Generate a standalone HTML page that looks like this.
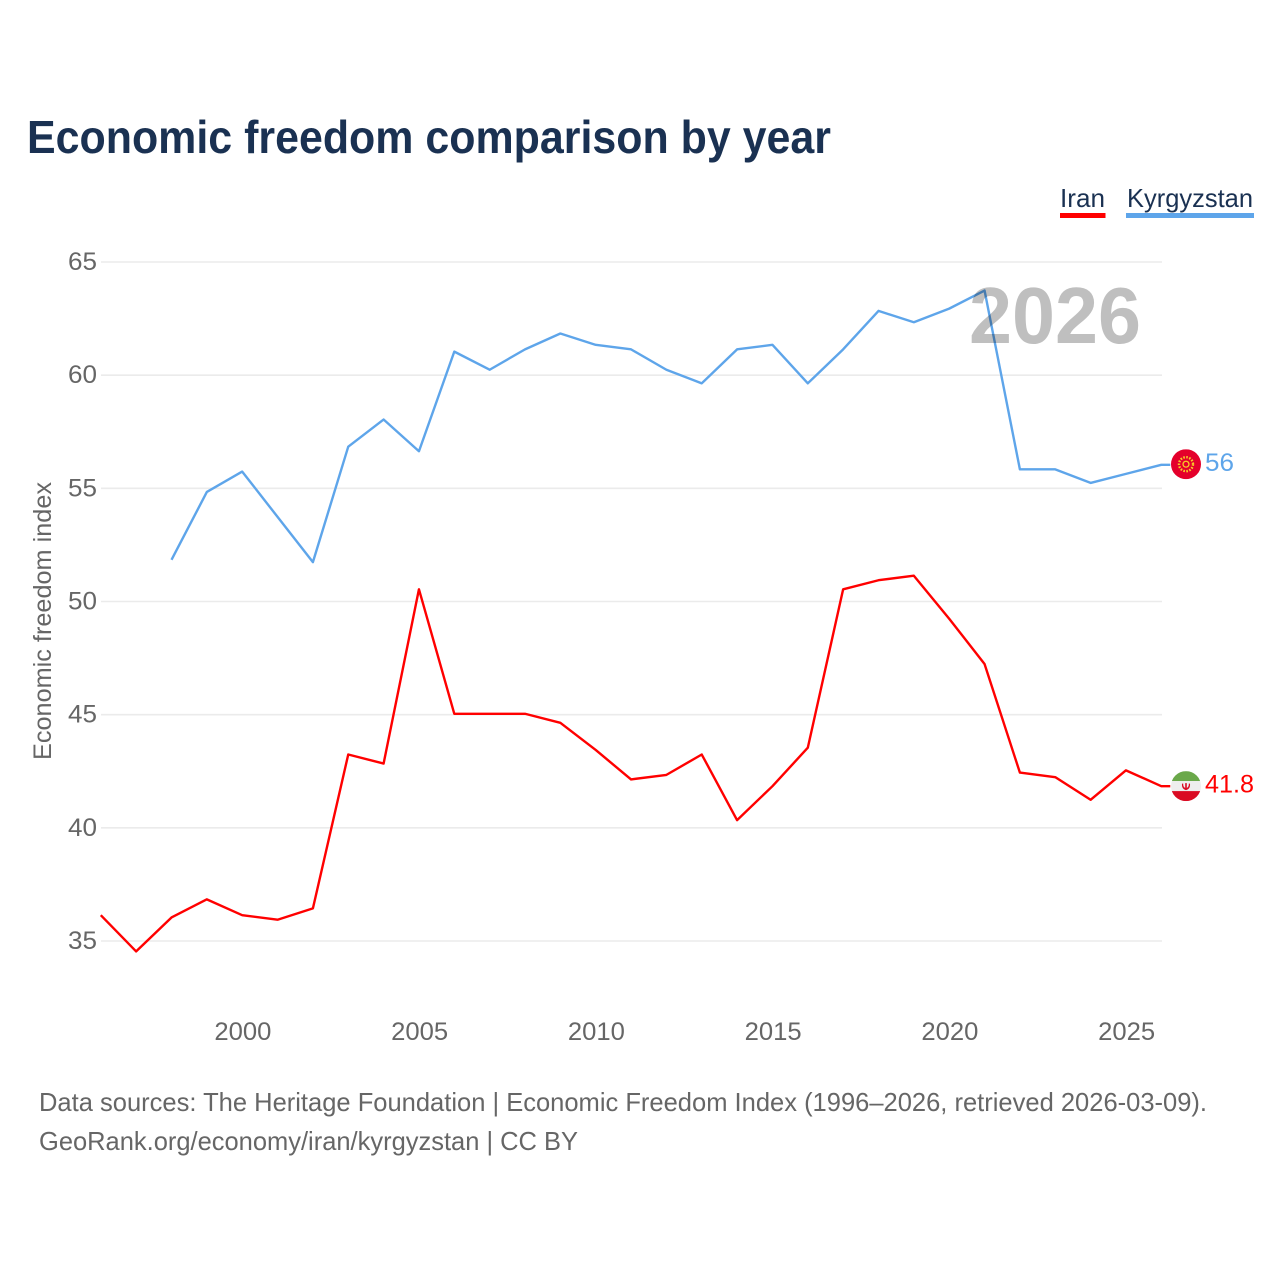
<!DOCTYPE html>
<html lang="en">
<head>
<meta charset="utf-8">
<title>Economic freedom comparison by year</title>
<style>
html,body{margin:0;padding:0;background:#fff;width:1280px;height:1280px;overflow:hidden}
svg{display:block}
text{font-family:"Liberation Sans",sans-serif}
</style>
</head>
<body>
<svg id="chart" xmlns="http://www.w3.org/2000/svg" width="1280" height="1280" viewBox="0 0 1280 1280">
  <defs>
    <clipPath id="flag-clip"><circle cx="0" cy="0" r="15"/></clipPath>
  </defs>
  <rect x="0" y="0" width="1280" height="1280" fill="#ffffff"/>
  <text x="27" y="153" font-size="46" font-weight="700" fill="#1a3152" textLength="804" lengthAdjust="spacingAndGlyphs">Economic freedom comparison by year</text>
  <g>
    <g>
      <text x="1060" y="207" font-size="26" fill="#1a3152" textLength="45" lengthAdjust="spacingAndGlyphs">Iran</text>
      <rect x="1060" y="213" width="45.5" height="5" fill="#ff0000"/>
    </g>
    <g>
      <text x="1127" y="207" font-size="26" fill="#1a3152" textLength="126" lengthAdjust="spacingAndGlyphs">Kyrgyzstan</text>
      <rect x="1126" y="213" width="128" height="5" fill="#5ea5ea"/>
    </g>
  </g>
  <g id="grid"></g>
  <g id="y-ticks"></g>
  <g id="x-ticks"></g>
  <text transform="translate(51,621) rotate(-90)" text-anchor="middle" font-size="25" fill="#666666" textLength="278" lengthAdjust="spacingAndGlyphs">Economic freedom index</text>
  <g id="series" transform="translate(-0.7,-0.9)"></g>
  <text x="969" y="343" font-size="80" font-weight="700" fill="#000000" fill-opacity="0.25" textLength="172" lengthAdjust="spacingAndGlyphs">2026</text>
  <g id="flag-kyrgyzstan">
    <g clip-path="url(#flag-clip)">
      <rect x="-15" y="-15" width="30" height="30" fill="#e4002b"/>
      <circle cx="0" cy="0" r="7" fill="none" stroke="#f7c928" stroke-width="2.4" stroke-dasharray="1.6 1.4"/>
      <circle cx="0" cy="0" r="3.6" fill="#f7c928"/>
      <circle cx="0" cy="0" r="2.3" fill="#e4002b"/>
    </g>
  </g>
  <g id="flag-iran">
    <g clip-path="url(#flag-clip)">
      <rect x="-15" y="-15" width="30" height="10" fill="#6aa84a"/>
      <rect x="-15" y="-5" width="30" height="10" fill="#eeeeee"/>
      <rect x="-15" y="5" width="30" height="10" fill="#da0b23"/>
      <path d="M-4-2.5C-4.5 2 -2 3.5 0 4C2 3.5 4.500 2 4-2.500L2.800-2.500C3 0.500 1.500 1.500 0.800 1.800L0.800-3H-0.800V1.800C-1.500 1.500-3 0.500-2.800-2.500Z" fill="#da0b23"/>
    </g>
  </g>
  <text id="value-kyrgyzstan" x="1205" font-size="25" fill="#5ea5ea" textLength="29" lengthAdjust="spacingAndGlyphs"></text>
  <text id="value-iran" x="1205" font-size="25" fill="#ff0000" textLength="49" lengthAdjust="spacingAndGlyphs"></text>
  <g>
    <text x="39" y="1111" font-size="26" fill="#666666" textLength="1168" lengthAdjust="spacingAndGlyphs">Data sources: The Heritage Foundation | Economic Freedom Index (1996–2026, retrieved 2026-03-09).</text>
    <text x="39" y="1150" font-size="26" fill="#666666" textLength="539" lengthAdjust="spacingAndGlyphs">GeoRank.org/economy/iran/kyrgyzstan | CC BY</text>
  </g>
</svg>
<script>
const yTickValues = [35, 40, 45, 50, 55, 60, 65];
const xTickValues = [2000, 2005, 2010, 2015, 2020, 2025];
const iranYears = [1996, 1997, 1998, 1999, 2000, 2001, 2002, 2003, 2004, 2005, 2006, 2007, 2008, 2009, 2010, 2011, 2012, 2013, 2014, 2015, 2016, 2017, 2018, 2019, 2020, 2021, 2022, 2023, 2024, 2025, 2026];
const iranValues = [36.1, 34.5, 36.0, 36.8, 36.1, 35.9, 36.4, 43.2, 42.8, 50.5, 45.0, 45.0, 45.0, 44.6, 43.4, 42.1, 42.3, 43.2, 40.3, 41.8, 43.5, 50.5, 50.9, 51.1, 49.2, 47.2, 42.4, 42.2, 41.2, 42.5, 41.8];
const kyrgyzstanYears = [1998, 1999, 2000, 2001, 2002, 2003, 2004, 2005, 2006, 2007, 2008, 2009, 2010, 2011, 2012, 2013, 2014, 2015, 2016, 2017, 2018, 2019, 2020, 2021, 2022, 2023, 2024, 2025, 2026];
const kyrgyzstanValues = [51.8, 54.8, 55.7, 53.7, 51.7, 56.8, 58.0, 56.6, 61.0, 60.2, 61.1, 61.8, 61.3, 61.1, 60.2, 59.6, 61.1, 61.3, 59.6, 61.1, 62.8, 62.3, 62.9, 63.7, 55.8, 55.8, 55.2, 55.6, 56.0];

const SVG_NS = 'http://www.w3.org/2000/svg';
function xScale(year) { return 101.5 + (year - 1996) * (1162 - 101.5) / 30; }
function yScale(value) { return 941 - (value - 35) * (941 - 262) / 30; }

const gridGroup = document.getElementById('grid');
const yTickGroup = document.getElementById('y-ticks');
const xTickGroup = document.getElementById('x-ticks');
const seriesGroup = document.getElementById('series');

yTickValues.forEach(function (tick) {
  const line = document.createElementNS(SVG_NS, 'line');
  
  
  line.setAttribute('x1', 101);
  line.setAttribute('x2', 1162);
  line.setAttribute('y1', yScale(tick));
  line.setAttribute('y2', yScale(tick));
  line.setAttribute('stroke', '#ebebeb');
  line.setAttribute('stroke-width', 1.6);
  gridGroup.appendChild(line);

  const label = document.createElementNS(SVG_NS, 'text');
  
  
  label.setAttribute('x', 97);
  label.setAttribute('y', yScale(tick) + 8);
  label.setAttribute('text-anchor', 'end');
  label.setAttribute('font-size', 25);
  label.setAttribute('fill', '#666666');
  label.setAttribute('textLength', 29);
  label.setAttribute('lengthAdjust', 'spacingAndGlyphs');
  label.textContent = String(tick);
  yTickGroup.appendChild(label);
});

xTickValues.forEach(function (tick) {
  const label = document.createElementNS(SVG_NS, 'text');
  
  
  label.setAttribute('x', xScale(tick));
  label.setAttribute('y', 1040);
  label.setAttribute('text-anchor', 'middle');
  label.setAttribute('font-size', 25);
  label.setAttribute('fill', '#666666');
  label.setAttribute('textLength', 57);
  label.setAttribute('lengthAdjust', 'spacingAndGlyphs');
  label.textContent = String(tick);
  xTickGroup.appendChild(label);
});

function linePoints(years, values) {
  const pts = years.map(function (year, i) {
    return xScale(year).toFixed(2) + ',' + yScale(values[i]).toFixed(2);
  });
  const lastY = yScale(values[values.length - 1]).toFixed(2);
  pts.push('1171,' + lastY);
  return pts.join(' ');
}

const iranLine = document.createElementNS(SVG_NS, 'polyline');


iranLine.setAttribute('points', linePoints(iranYears, iranValues));
iranLine.setAttribute('fill', 'none');
iranLine.setAttribute('stroke', '#ff0000');
iranLine.setAttribute('stroke-width', 2.4);
iranLine.setAttribute('stroke-linejoin', 'round');
seriesGroup.appendChild(iranLine);

const kyrgyzstanLine = document.createElementNS(SVG_NS, 'polyline');


kyrgyzstanLine.setAttribute('points', linePoints(kyrgyzstanYears, kyrgyzstanValues));
kyrgyzstanLine.setAttribute('fill', 'none');
kyrgyzstanLine.setAttribute('stroke', '#5ea5ea');
kyrgyzstanLine.setAttribute('stroke-width', 2.4);
kyrgyzstanLine.setAttribute('stroke-linejoin', 'round');
seriesGroup.appendChild(kyrgyzstanLine);

const iranLast = iranValues[iranValues.length - 1];
const kyrgyzstanLast = kyrgyzstanValues[kyrgyzstanValues.length - 1];
document.getElementById('flag-iran').setAttribute('transform', 'translate(1186,' + (yScale(iranLast) - 1) + ')');
document.getElementById('flag-kyrgyzstan').setAttribute('transform', 'translate(1186,' + (yScale(kyrgyzstanLast) - 1.5) + ')');
const iranValueLabel = document.getElementById('value-iran');
iranValueLabel.setAttribute('y', yScale(iranLast) + 5.5);
iranValueLabel.textContent = String(iranLast);
const kyrgyzstanValueLabel = document.getElementById('value-kyrgyzstan');
kyrgyzstanValueLabel.setAttribute('y', yScale(kyrgyzstanLast) + 5.5);
kyrgyzstanValueLabel.textContent = String(kyrgyzstanLast);
</script>
</body>
</html>
